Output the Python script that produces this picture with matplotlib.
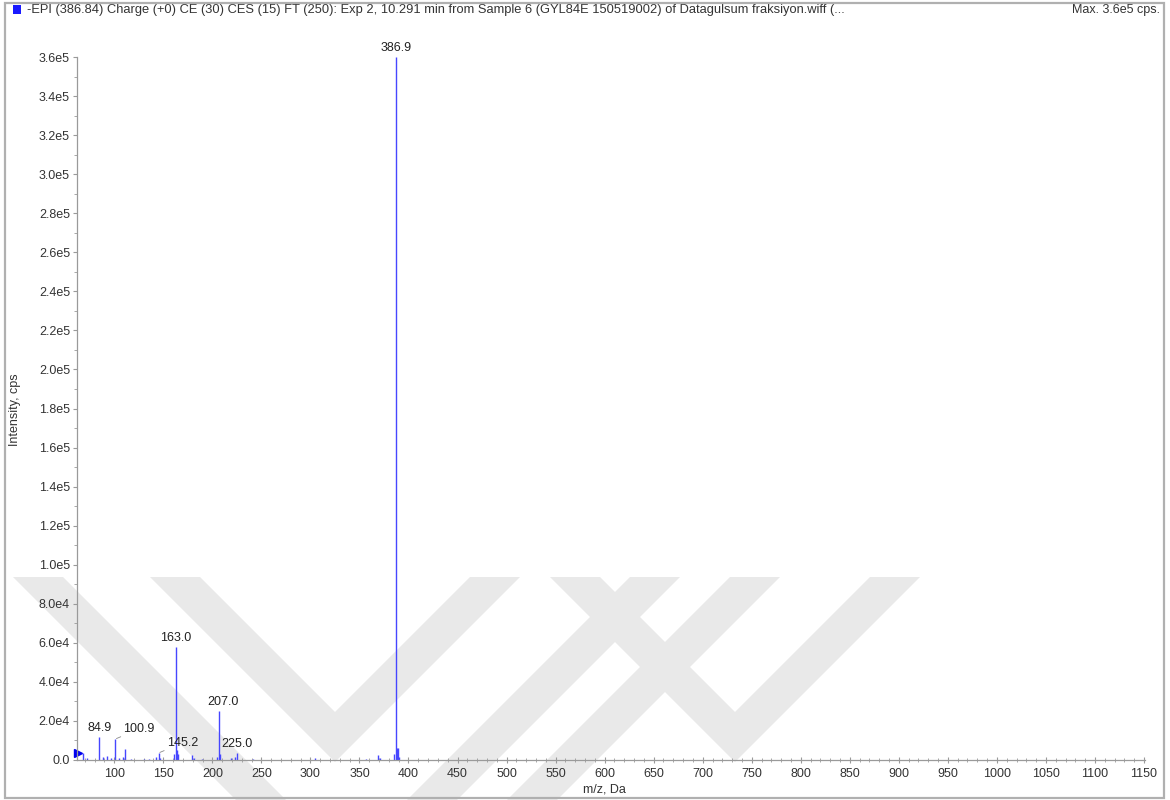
import matplotlib
matplotlib.use("Agg")
import matplotlib.pyplot as plt
from matplotlib.patches import Rectangle, Polygon
import numpy as np

plt.rcParams['font.family'] = ['Liberation Sans', 'DejaVu Sans']

# ---------------- data ----------------
title_text = ("-EPI (386.84) Charge (+0) CE (30) CES (15) FT (250): Exp 2, 10.291 min from "
              "Sample 6 (GYL84E 150519002) of Datagulsum fraksiyon.wiff (...")
max_text = "Max. 3.6e5 cps."
x_label = "m/z, Da"
y_label = "Intensity, cps"

mz = [68, 72, 84.9, 89, 93, 97, 100.9, 105, 109, 111, 117, 130, 135, 143, 145.2, 147,
      161, 163.0, 164, 165, 179, 181, 189, 205, 207.0, 208, 219, 223, 225.0, 241, 305,
      357, 369, 371, 385, 386.9, 388, 389, 390]
intensity = [3500, 1000, 11800, 1500, 2000, 1000, 10700, 1000, 1500, 5500, 500, 500, 500,
             1500, 3600, 1000, 3000, 58000, 5000, 3000, 2500, 1000, 500, 1500, 25000, 3000,
             1000, 1500, 3600, 500, 800, 500, 2500, 1000, 3000, 360000, 6000, 6000, 1500]

labeled_mz = [84.9, 100.9, 145.2, 163.0, 207.0, 225.0, 386.9]
labeled_text = ["84.9", "100.9", "145.2", "163.0", "207.0", "225.0", "386.9"]

x_ticks = list(range(100, 1151, 50))
y_ticks = [0, 2e4, 4e4, 6e4, 8e4, 1e5, 1.2e5, 1.4e5, 1.6e5, 1.8e5, 2e5, 2.2e5, 2.4e5,
           2.6e5, 2.8e5, 3e5, 3.2e5, 3.4e5, 3.6e5]
y_tick_labels = ["0.0", "2.0e4", "4.0e4", "6.0e4", "8.0e4", "1.0e5", "1.2e5", "1.4e5", "1.6e5",
                 "1.8e5", "2.0e5", "2.2e5", "2.4e5", "2.6e5", "2.8e5", "3.0e5", "3.2e5",
                 "3.4e5", "3.6e5"]
x_range = (62, 1151)
y_range = (0, 3.6e5)
precursor_marker_y = 3500

# ---------------- figure ----------------
W, H = 1170, 800
fig = plt.figure(figsize=(W / 100, H / 100), dpi=100)
FS = 9
TXT = '#333333'

def fx(px):
    return px / W

def fy(py):
    return 1 - py / H

# watermark (light gray chevrons)
wm_color = '#e9e9e9'
wm_shapes = [
    [(13, 577), (63, 577), (286, 800), (236, 800)],
    [(150, 577), (200, 577), (335, 712), (470, 577), (520, 577), (335, 762)],
    [(630, 577), (680, 577), (457, 800), (407, 800)],
    [(730, 577), (780, 577), (557, 800), (507, 800)],
    [(550, 577), (600, 577), (735, 712), (870, 577), (920, 577), (735, 762)],
]
for shp in wm_shapes:
    fig.add_artist(Polygon([(fx(a), fy(b)) for a, b in shp], closed=True,
                           facecolor=wm_color, edgecolor='none', zorder=-5,
                           transform=fig.transFigure))

# outer frame
fig.add_artist(Rectangle((fx(5), fy(798)), fx(1164) - fx(5), fy(3) - fy(798),
                         fill=False, edgecolor='#b0b0b0', linewidth=1.6,
                         transform=fig.transFigure, zorder=10))

# header
fig.add_artist(Rectangle((fx(13), fy(14)), fx(8), 9 / H, facecolor='#1a1aff',
                         edgecolor='none', transform=fig.transFigure))
fig.text(fx(27), fy(10), title_text, fontsize=9.3, color=TXT, va='center', ha='left')
fig.text(fx(1160), fy(10), max_text, fontsize=FS, color=TXT, va='center', ha='right')

# axes
ax = fig.add_axes([fx(77), fy(760), fx(1145) - fx(77), fy(57) - fy(760)])
ax.patch.set_alpha(0)
ax.set_xlim(*x_range)
ax.set_ylim(*y_range)

ax.vlines(mz, 0, intensity, color='#4646ff', linewidth=1.0)

for m, t in zip(labeled_mz, labeled_text):
    h = intensity[mz.index(m)]
    if t in ("100.9", "145.2"):
        ax.annotate(t, xy=(m, h), xytext=(6, 3), textcoords='offset points',
                    ha='left', va='bottom', fontsize=FS, color='#222222',
                    arrowprops=dict(arrowstyle='-', color='#888888', lw=0.6,
                                    shrinkA=0, shrinkB=1))
    else:
        dx = 3 if t == "207.0" else 0
        ax.annotate(t, xy=(m, h), xytext=(dx, 2), textcoords='offset points',
                    ha='center', va='bottom', fontsize=FS, color='#222222',
                    annotation_clip=False)

# precursor marker
ax.plot([x_range[0] + 1.0], [precursor_marker_y], marker='>', color='#0000ee',
        markersize=6, clip_on=False, linestyle='none')

for s in ('top', 'right'):
    ax.spines[s].set_visible(False)
for s in ('left', 'bottom'):
    ax.spines[s].set_color('#9a9a9a')
    ax.spines[s].set_linewidth(0.9)

ax.set_xticks(x_ticks)
ax.set_xticks(np.arange(70, 1151, 10), minor=True)
ax.set_yticks(y_ticks)
ax.set_yticklabels(y_tick_labels)
ax.set_yticks(np.arange(0, 3.61e5, 1e4), minor=True)

ax.tick_params(axis='both', which='major', labelsize=FS, labelcolor=TXT,
               color='#9a9a9a', width=0.8)
ax.tick_params(axis='x', which='major', direction='inout', length=5, pad=3)
ax.tick_params(axis='x', which='minor', direction='inout', length=3, color='#9a9a9a', width=0.6)
ax.tick_params(axis='y', which='major', direction='out', length=3, pad=2)
ax.tick_params(axis='y', which='minor', direction='out', length=2, color='#9a9a9a', width=0.6)

fig.text(fx(604), fy(790), x_label, fontsize=FS, color=TXT, ha='center', va='center')
fig.text(fx(15), fy(410), y_label, fontsize=FS, color=TXT, ha='center', va='center',
         rotation=90)

fig.savefig('out.png', dpi=100)
